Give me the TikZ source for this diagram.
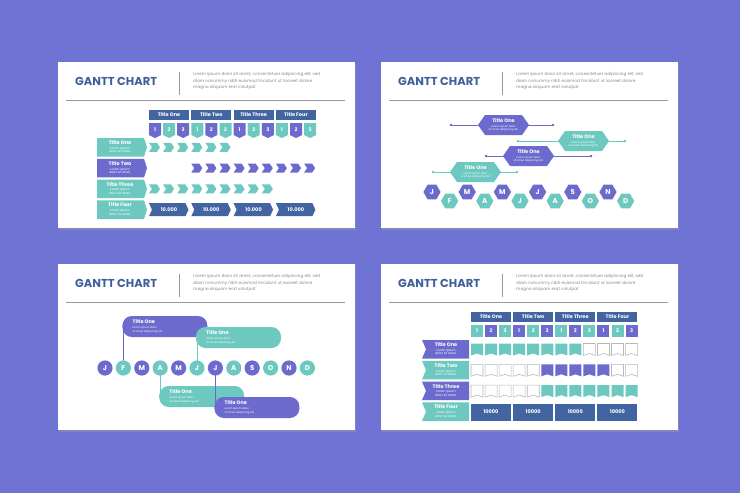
\documentclass[tikz,border=0pt]{standalone}
\usepackage{fontspec}
\setmainfont{Poppins}
\definecolor{bgc}{HTML}{6F73D4}
\definecolor{teal}{HTML}{6DC9BF}
\definecolor{purp}{HTML}{6C6ACD}
\definecolor{dblue}{HTML}{4265A2}
\definecolor{headc}{HTML}{3F5F9A}
\definecolor{grayl}{HTML}{9A9A9A}
\definecolor{loremc}{HTML}{8A8A8A}
\tikzset{
 heading/.style={anchor=west,text=headc,font=\fontsize{11.5}{12}\selectfont\bfseries,inner sep=0},
 loremtxt/.style={anchor=north west,align=left,text=loremc,font=\fontsize{4.2}{6.5}\selectfont,inner sep=0},
 wtitle/.style={text=white,font=\fontsize{5}{6}\selectfont\bfseries,inner sep=0},
 wsmall/.style={text=white,font=\fontsize{3}{3.6}\selectfont,inner sep=0,align=center},
 wsmallL/.style={text=white,font=\fontsize{3}{3.8}\selectfont,inner sep=0,align=left,anchor=north west},
 letter/.style={text=white,font=\fontsize{7}{8}\selectfont\bfseries,inner sep=0},
}
\newcommand\slideframe[1]{%
 \fill[black!35,opacity=.35] (1,1.5) rectangle (298,167.5);
 \fill[white] (0,0) rectangle (297,166);
 \node[heading] (#1head) at (17,19) {GANTT CHART};
 \draw[grayl,line width=1] (121,10) -- (121,33);
 \node[loremtxt] (#1lorem) at (135,10.5) {Lorem ipsum dolor sit amet, consectetuer adipiscing elit, sed\\diam nonummy nibh euismod tincidunt ut laoreet dolore\\magna aliquam erat volutpat};
 \draw[grayl,line width=.7] (8,38.5) -- (287,38.5);
}
\newcommand\tabdown[3]{\fill[#3] ({#1},{#2}) -- ({#1+12},{#2}) -- ({#1+12},{#2+12}) -- ({#1+6},{#2+15}) -- ({#1},{#2+12}) -- cycle;}
\newcommand\chev[5]{\fill[#5] ({#1},{#2-#4/2}) -- ({#1+#3-3},{#2-#4/2}) -- ({#1+#3},{#2}) -- ({#1+#3-3},{#2+#4/2}) -- ({#1},{#2+#4/2}) -- ({#1+3},{#2}) -- cycle;}
\newcommand\flag[3]{\path[#3] ({#1},{#2}) -- ({#1+12},{#2}) -- ({#1+12},{#2+12}) -- ({#1+6},{#2+10}) -- ({#1},{#2+12}) -- cycle;}
\newcommand\hexa[4]{\fill[#4] ({#1+#3},{#2}) -- ({#1+#3/2},{#2-0.866*#3}) -- ({#1-#3/2},{#2-0.866*#3}) -- ({#1-#3},{#2}) -- ({#1-#3/2},{#2+0.866*#3}) -- ({#1+#3/2},{#2+0.866*#3}) -- cycle;}
\begin{document}
\begin{tikzpicture}[x=1pt,y=-1pt]
\fill[bgc] (0,0) rectangle (740,493);
\useasboundingbox (0,0) rectangle (740,493);
%================ SLIDE 1
\begin{scope}[shift={(58,62)}]
\slideframe{a}
\foreach \t [count=\g from 0] in {Title One,Title Two,Title Three,Title Four}{
 \fill[dblue] ({91+\g*42.3},48) rectangle ({91+\g*42.3+40},58);
 \node[wtitle] (ah\g) at ({91+\g*42.3+20},53) {\t};
 \foreach \n in {1,2,3}{
  \pgfmathtruncatemacro\c{\g*3+\n}
  \pgfmathsetmacro\xx{91+(\c-1)*14.1}
  \ifodd\c \tabdown{\xx}{61}{purp}\else\tabdown{\xx}{61}{teal}\fi
  \node[letter,font=\fontsize{5}{6}\selectfont\bfseries] (an\c) at ({\xx+6},67.5) {\n};
 }
}
\foreach \t/\y/\col [count=\r] in {Title One/76/teal,Title Two/96.8/purp,Title Three/117.6/teal,Title Four/138.4/teal}{
 \fill[\col] (39,\y) -- (86,\y) -- (89,{\y+9.3}) -- (86,{\y+18.6}) -- (39,{\y+18.6}) -- cycle;
 \node[wtitle] (ar\r) at (62,{\y+4.5}) {\t};
 \node[wsmall] (as\r) at (62,{\y+12}) {Lorem ipsum\\dolor sit amet.};
}
\foreach \c in {1,...,6}{\chev{91+(\c-1)*14.1}{85.3}{11}{9}{teal}}
\foreach \c in {4,...,12}{\chev{91+(\c-1)*14.1}{106.1}{11}{9}{purp}}
\foreach \c in {1,...,9}{\chev{91+(\c-1)*14.1}{126.9}{11}{9}{teal}}
\foreach \g in {0,...,3}{
 \chev{91+\g*42.3}{147.7}{39.5}{13}{dblue}
 \node[wtitle] (av\g) at ({91+\g*42.3+20},147.7) {10.000};
}
\end{scope}
%================ SLIDE 2
\begin{scope}[shift={(381,62)}]
\slideframe{b}
\foreach \xa/\xb/\hx/\yc/\col [count=\k] in {70/172/97/63/purp,137/244/177/79/teal,105/210/122/94/purp,52/136/69/110/teal}{
 \draw[\col,line width=.8] (\xa,\yc) -- (\xb,\yc);
 \fill[\col] (\xa,\yc) circle (1.3) (\xb,\yc) circle (1.3);
 \fill[\col] (\hx,\yc) -- ({\hx+7},{\yc-10}) -- ({\hx+44},{\yc-10}) -- ({\hx+51},\yc) -- ({\hx+44},{\yc+10}) -- ({\hx+7},{\yc+10}) -- cycle;
 \node[wtitle] (bt\k) at ({\hx+25.5},{\yc-4}) {Title One};
 \node[wsmall,font=\fontsize{2.6}{3.4}\selectfont] (bs\k) at ({\hx+25.5},{\yc+3.5}) {Lorem ipsum dolor\\sit amet adipiscing elit.};
}
\foreach \m [count=\i] in {J,F,M,A,M,J,J,A,S,O,N,D}{
 \pgfmathsetmacro\xx{51+(\i-1)*17.6}
 \ifodd\i \hexa{\xx}{130}{8.6}{purp}\def\yy{130}\else\hexa{\xx}{139}{8.6}{teal}\def\yy{139}\fi
 \node[letter] (bm\i) at (\xx,\yy) {\m};
}
\end{scope}
%================ SLIDE 3
\begin{scope}[shift={(58,264)}]
\slideframe{c}
\foreach \lx/\ty/\ly/\col [count=\k] in {64.4/52/97/purp,138/63/97/teal,101.2/122/111/teal,156.4/133/111/purp}{
 \draw[\col,line width=.9] ({\lx+1},{\ty+10}) -- ({\lx+1},\ly);
 \fill[\col,rounded corners=9.5] (\lx,\ty) rectangle ({\lx+85},{\ty+21});
 \node[wtitle,anchor=west] (ct\k) at ({\lx+10},{\ty+6}) {Title One};
 \node[wsmallL,font=\fontsize{2.6}{3.6}\selectfont] (cs\k) at ({\lx+10},{\ty+10.5}) {Lorem ipsum dolor\\sit amet adipiscing elit.};
}
\foreach \m [count=\i] in {J,F,M,A,M,J,J,A,S,O,N,D}{
 \pgfmathsetmacro\xx{47+(\i-1)*18.4}
 \ifodd\i \fill[purp] (\xx,104) circle (7.6);\else\fill[teal] (\xx,104) circle (7.6);\fi
 \node[letter] (cm\i) at (\xx,104) {\m};
}
\end{scope}
%================ SLIDE 4
\begin{scope}[shift={(381,264)}]
\slideframe{d}
\foreach \t [count=\g from 0] in {Title One,Title Two,Title Three,Title Four}{
 \fill[dblue] ({90+\g*42.15},48) rectangle ({90+\g*42.15+40},58);
 \node[wtitle] (dh\g) at ({90+\g*42.15+20},53) {\t};
 \foreach \n in {1,2,3}{
  \pgfmathtruncatemacro\c{\g*3+\n}
  \pgfmathsetmacro\xx{90+(\c-1)*14.05}
  \ifodd\c \fill[teal] (\xx,61) rectangle ({\xx+12},73);\else\fill[purp] (\xx,61) rectangle ({\xx+12},73);\fi
  \node[letter,font=\fontsize{5}{6}\selectfont\bfseries] (dn\c) at ({\xx+6},67) {\n};
 }
}
\foreach \t/\y/\col [count=\r] in {Title One/76/purp,Title Two/96.8/teal,Title Three/117.6/purp,Title Four/138.4/teal}{
 \fill[\col] (41,\y) -- (88,\y) -- (88,{\y+18.6}) -- (41,{\y+18.6}) -- (45,{\y+9.3}) -- cycle;
 \node[wtitle] (dr\r) at (65,{\y+4.5}) {\t};
 \node[wsmall] (ds\r) at (65,{\y+12}) {Lorem ipsum\\dolor sit amet.};
}
\foreach \c in {1,...,12}{
 \pgfmathsetmacro\xx{90+(\c-1)*14.05}
 \ifnum\c<9 \flag{\xx}{79.5}{fill=teal}\else\flag{\xx}{79.5}{draw=grayl!70,line width=.6}\fi
 \ifnum\c<6 \flag{\xx}{100.3}{draw=grayl!70,line width=.6}\else\ifnum\c<11 \flag{\xx}{100.3}{fill=purp}\else\flag{\xx}{100.3}{draw=grayl!70,line width=.6}\fi\fi
 \ifnum\c<6 \flag{\xx}{121.1}{draw=grayl!70,line width=.6}\else\flag{\xx}{121.1}{fill=teal}\fi
}
\foreach \g in {0,...,3}{
 \fill[dblue] ({90+\g*42.15},139.5) rectangle ({90+\g*42.15+40},156.5);
 \node[wtitle] (dv\g) at ({90+\g*42.15+20},148) {10000};
}
\end{scope}
\end{tikzpicture}
\end{document}
